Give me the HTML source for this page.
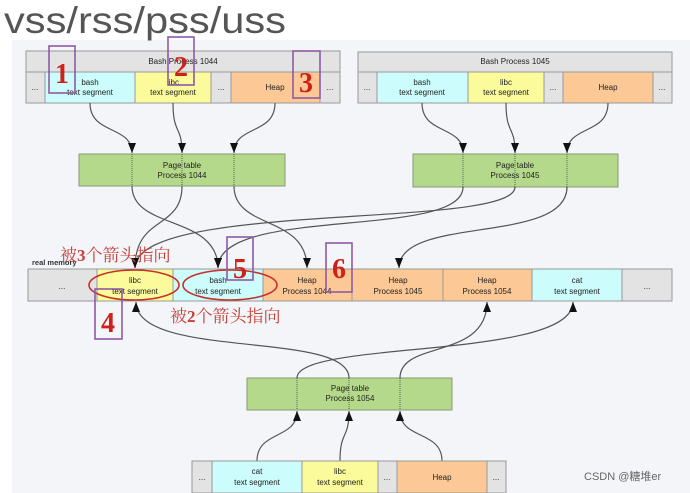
<!DOCTYPE html>
<html><head><meta charset="utf-8"><style>
html,body{margin:0;padding:0;background:#fff;width:690px;height:493px;overflow:hidden}
svg{display:block}
.t{font-family:"Liberation Sans",sans-serif;font-size:8px;fill:#222;text-anchor:middle}
.cn{font-family:"Liberation Serif","Noto Serif CJK SC",serif;font-size:17px;fill:#c8403a}
.num{font-family:"Liberation Serif",serif;font-weight:bold;font-size:28px;fill:#d0201a;text-anchor:middle}
.bx{fill:none;stroke:#8e5aa6;stroke-width:1.6}
.c{fill:none;stroke:#555;stroke-width:1.2}
</style></head><body>
<svg width="690" height="493" viewBox="0 0 690 493">
<defs><marker id="a" markerWidth="10" markerHeight="8" refX="10" refY="4" orient="auto" markerUnits="userSpaceOnUse"><path d="M0,0 L10,4 L0,8 z" fill="#111"/></marker></defs>
<rect x="12" y="40" width="678" height="453" fill="#f4f5f9"/>
<text x="4" y="33" font-family="Liberation Sans,sans-serif" font-size="37" fill="#555" textLength="282" lengthAdjust="spacingAndGlyphs">vss/rss/pss/uss</text>

<!-- Bash 1044 -->
<rect x="26" y="51" width="314" height="21" fill="#e3e3e3" stroke="#999"/>
<text class="t" x="183" y="64">Bash Process 1044</text>
<g stroke="#999">
<rect x="26" y="72" width="19" height="31" fill="#e3e3e3"/><rect x="45" y="72" width="90" height="31" fill="#ccfcfc"/><rect x="135" y="72" width="76" height="31" fill="#fbfb9c"/><rect x="211" y="72" width="20" height="31" fill="#e3e3e3"/><rect x="231" y="72" width="89" height="31" fill="#fcc996"/><rect x="320" y="72" width="20" height="31" fill="#e3e3e3"/></g>
<text class="t" x="90" y="85">bash</text><text class="t" x="90" y="95">text segment</text>
<text class="t" x="173" y="85">libc</text><text class="t" x="173" y="95">text segment</text>
<text class="t" x="275" y="90">Heap</text>
<text class="t" x="35" y="90">...</text><text class="t" x="221" y="90">...</text><text class="t" x="330" y="90">...</text>

<!-- Bash 1045 -->
<rect x="358" y="52" width="314" height="20" fill="#e3e3e3" stroke="#999"/>
<text class="t" x="515" y="64">Bash Process 1045</text>
<g stroke="#999">
<rect x="358" y="72" width="19" height="31" fill="#e3e3e3"/><rect x="377" y="72" width="91" height="31" fill="#ccfcfc"/><rect x="468" y="72" width="76" height="31" fill="#fbfb9c"/><rect x="544" y="72" width="19" height="31" fill="#e3e3e3"/><rect x="563" y="72" width="90" height="31" fill="#fcc996"/><rect x="653" y="72" width="19" height="31" fill="#e3e3e3"/></g>
<text class="t" x="422" y="85">bash</text><text class="t" x="422" y="95">text segment</text>
<text class="t" x="506" y="85">libc</text><text class="t" x="506" y="95">text segment</text>
<text class="t" x="608" y="90">Heap</text>
<text class="t" x="367" y="90">...</text><text class="t" x="553" y="90">...</text><text class="t" x="662" y="90">...</text>

<!-- page tables -->
<g fill="#b5d98a" stroke="#889977">
<rect x="79" y="154" width="206" height="32"/><rect x="413" y="154" width="205" height="33"/><rect x="247" y="378" width="205" height="32"/></g>
<text class="t" x="182" y="168">Page table</text><text class="t" x="182" y="178">Process 1044</text>
<text class="t" x="515" y="168">Page table</text><text class="t" x="515" y="178">Process 1045</text>
<text class="t" x="350" y="391">Page table</text><text class="t" x="350" y="401">Process 1054</text>
<g stroke="#444" stroke-dasharray="1,1" stroke-width="0.8">
<line x1="132" y1="154" x2="132" y2="186"/><line x1="182" y1="154" x2="182" y2="186"/><line x1="234" y1="154" x2="234" y2="186"/>
<line x1="463" y1="154" x2="463" y2="187"/><line x1="515" y1="154" x2="515" y2="187"/><line x1="567" y1="154" x2="567" y2="187"/>
<line x1="297" y1="378" x2="297" y2="410"/><line x1="349" y1="378" x2="349" y2="410"/><line x1="400" y1="378" x2="400" y2="410"/></g>

<!-- arrows into page tables -->
<path class="c" marker-end="url(#a)" d="M90,103 C90,135 132,125 132,153"/>
<path class="c" marker-end="url(#a)" d="M173,103 C173,135 182,125 182,153"/>
<path class="c" marker-end="url(#a)" d="M275,103 C275,135 234,125 234,153"/>
<path class="c" marker-end="url(#a)" d="M422,103 C422,135 463,125 463,153"/>
<path class="c" marker-end="url(#a)" d="M506,103 C506,135 515,125 515,153"/>
<path class="c" marker-end="url(#a)" d="M608,103 C608,135 567,125 567,153"/>
<path class="c" marker-end="url(#a)" d="M257,461 C257,430 297,440 297,411"/>
<path class="c" marker-end="url(#a)" d="M340,461 C340,430 349,440 349,411"/>
<path class="c" marker-end="url(#a)" d="M442,461 C442,430 400,440 400,411"/>

<!-- page table to memory -->
<path class="c" marker-end="url(#a)" d="M132,186 C132,230 218,215 218,268"/>
<path class="c" marker-end="url(#a)" d="M182,186 C182,230 135,215 135,268"/>
<path class="c" marker-end="url(#a)" d="M234,186 C234,230 307,215 307,268"/>
<path class="c" marker-end="url(#a)" d="M463,187 C463,240 218,205 218,268"/>
<path class="c" marker-end="url(#a)" d="M515,187 C515,230 135,200 135,268"/>
<path class="c" marker-end="url(#a)" d="M567,187 C567,245 399,215 399,268"/>
<path class="c" marker-end="url(#a)" d="M297,378 C297,340 573,360 573,302"/>
<path class="c" marker-end="url(#a)" d="M349,378 C349,330 136,360 136,302"/>
<path class="c" marker-end="url(#a)" d="M400,378 C400,340 487,360 487,302"/>

<!-- real memory -->
<text x="32" y="265" font-family="Liberation Sans,sans-serif" font-size="7.5" font-weight="bold" fill="#333">real memory</text>
<g stroke="#999">
<rect x="28" y="269" width="69" height="32" fill="#e3e3e3"/><rect x="97" y="269" width="76" height="32" fill="#fbfb9c"/><rect x="173" y="269" width="90" height="32" fill="#ccfcfc"/><rect x="263" y="269" width="89" height="32" fill="#fcc996"/><rect x="352" y="269" width="91" height="32" fill="#fcc996"/><rect x="443" y="269" width="89" height="32" fill="#fcc996"/><rect x="532" y="269" width="90" height="32" fill="#ccfcfc"/><rect x="622" y="269" width="50" height="32" fill="#e3e3e3"/></g>
<text class="t" x="62" y="289">...</text>
<text class="t" x="135" y="283">libc</text><text class="t" x="135" y="294">text segment</text>
<text class="t" x="218" y="283">bash</text><text class="t" x="218" y="294">text segment</text>
<text class="t" x="307" y="283">Heap</text><text class="t" x="307" y="294">Process 1044</text>
<text class="t" x="398" y="283">Heap</text><text class="t" x="398" y="294">Process 1045</text>
<text class="t" x="487" y="283">Heap</text><text class="t" x="487" y="294">Process 1054</text>
<text class="t" x="577" y="283">cat</text><text class="t" x="577" y="294">text segment</text>
<text class="t" x="647" y="289">...</text>

<!-- bottom row -->
<g stroke="#999">
<rect x="192" y="461" width="20" height="32" fill="#e3e3e3"/><rect x="212" y="461" width="90" height="32" fill="#ccfcfc"/><rect x="302" y="461" width="76" height="32" fill="#fbfb9c"/><rect x="378" y="461" width="19" height="32" fill="#e3e3e3"/><rect x="397" y="461" width="90" height="32" fill="#fcc996"/><rect x="487" y="461" width="19" height="32" fill="#e3e3e3"/></g>
<text class="t" x="257" y="474">cat</text><text class="t" x="257" y="485">text segment</text>
<text class="t" x="340" y="474">libc</text><text class="t" x="340" y="485">text segment</text>
<text class="t" x="442" y="480">Heap</text>
<text class="t" x="202" y="480">...</text><text class="t" x="387" y="480">...</text><text class="t" x="496" y="480">...</text>

<!-- annotations -->
<ellipse cx="134" cy="285" rx="45" ry="15" fill="none" stroke="#c8302a" stroke-width="1.6"/>
<ellipse cx="230" cy="285" rx="47" ry="15" fill="none" stroke="#c8302a" stroke-width="1.6"/>
<text class="cn" x="60" y="261">被<tspan font-weight="bold">3</tspan>个箭头指向</text>
<text class="cn" x="170" y="322">被<tspan font-weight="bold">2</tspan>个箭头指向</text>
<rect class="bx" x="49" y="46" width="26" height="47"/><text class="num" x="62" y="83">1</text>
<rect class="bx" x="168" y="37" width="26" height="48"/><text class="num" x="181" y="76">2</text>
<rect class="bx" x="293" y="51" width="27" height="47"/><text class="num" x="306" y="92">3</text>
<rect class="bx" x="95" y="289" width="27" height="50"/><text class="num" x="108" y="332">4</text>
<rect class="bx" x="227" y="237" width="26" height="43"/><text class="num" x="240" y="278">5</text>
<rect class="bx" x="326" y="243" width="26" height="49"/><text class="num" x="339" y="278">6</text>
<text x="584" y="480" font-family="Liberation Sans,'Noto Sans CJK SC',sans-serif" font-size="11" fill="#666">CSDN @糖堆er</text>
</svg>
</body></html>
